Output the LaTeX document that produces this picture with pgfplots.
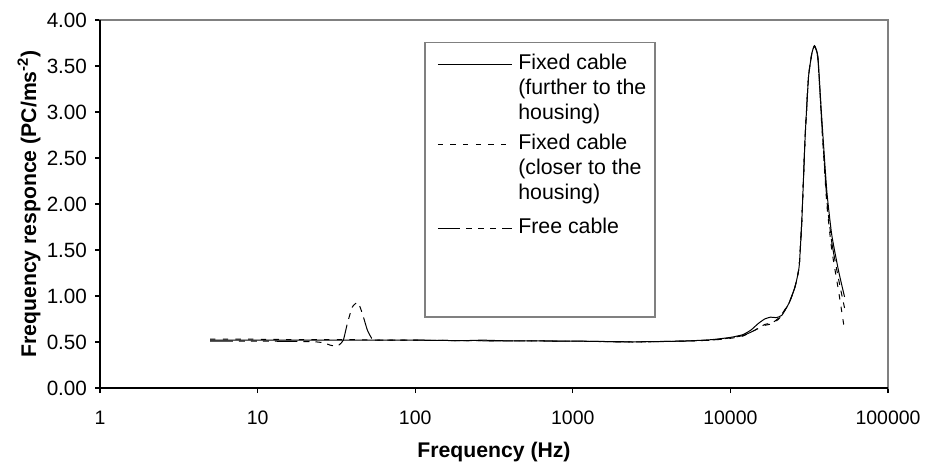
\documentclass[border=0pt]{standalone}
\usepackage{fontspec}
\setmainfont{Liberation Sans}
\usepackage{pgfplots}
\pgfplotsset{compat=1.18}

% frequency (Hz), response
\pgfplotstableread{
f      r
5      0.52
10     0.52
20     0.52
40     0.52
60     0.52
100    0.52
200    0.515
270    0.52
400    0.512
1000   0.51
2400   0.502
5000   0.51
7500   0.525
10000  0.55
12000  0.58
13500  0.63
15000  0.70
16500  0.75
18000  0.77
19500  0.765
21200  0.79
23500  0.92
25700  1.10
27300  1.32
28400  1.83
29800  2.73
31300  3.38
32900  3.64
34200  3.72
35900  3.60
38000  2.93
40900  2.14
44000  1.66
48600  1.27
53000  0.99
}\fixedfar

\pgfplotstableread{
f      r
5      0.53
10     0.53
20     0.525
40     0.525
60     0.52
100    0.52
200    0.515
400    0.512
1000   0.51
2400   0.50
5000   0.51
7500   0.52
10000  0.54
12000  0.565
14000  0.62
16500  0.68
18500  0.70
20500  0.76
23500  0.92
25700  1.10
27300  1.32
28400  1.83
29800  2.73
31300  3.38
32900  3.64
34200  3.72
35900  3.58
38000  2.85
40900  2.00
44000  1.50
48600  1.05
53000  0.63
}\fixedclose

\pgfplotstableread{
f      r
5      0.51
10     0.51
20     0.505
24     0.50
26.4   0.49
29     0.465
31.3   0.455
33     0.47
35     0.52
37.1   0.70
39.9   0.88
43.3   0.93
46.2   0.81
49.7   0.63
53     0.54
56     0.52
60     0.52
100    0.52
200    0.515
400    0.512
1000   0.51
2400   0.50
5000   0.51
7500   0.52
10000  0.545
12000  0.57
14000  0.62
16500  0.69
18500  0.71
20500  0.77
23500  0.92
25700  1.10
27300  1.32
28400  1.83
29800  2.73
31300  3.38
32900  3.64
34200  3.71
35900  3.59
38000  2.88
40900  2.05
44000  1.58
48600  1.18
53000  0.87
}\freecable

\begin{document}
\begin{tikzpicture}
\begin{axis}[
    width=591pt, height=276pt, scale only axis,
    xmode=log, xmin=1, xmax=100000,
    ymin=0, ymax=4,
    xtick={1,10,100,1000,10000,100000},
    xticklabels={1,10,100,1000,10000,100000},
    xminorticks=false,
    ytick={0,0.5,1,1.5,2,2.5,3,3.5,4},
    xticklabel style={font=\fontsize{14.6}{17}\selectfont, yshift=-10pt},
    yticklabel style={font=\fontsize{15.5}{18}\selectfont, xshift=-2.5pt, /pgf/number format/.cd, fixed, fixed zerofill, precision=2, assume math mode=true},
    tick pos=left,
    tick align=outside,
    major tick length=3.75pt,
    tick style={black, line width=0.8pt},
    axis line style={draw=gray, line width=0.8pt},
    clip=false,
    label style={font=\bfseries\fontsize{15.9}{18}\selectfont},
    xlabel={Frequency (Hz)},
    ylabel={Frequency responce (PC/ms\textsuperscript{-2})},
    xlabel style={at={(axis description cs:0.5,-0.174)}, anchor=center},
    ylabel style={at={(axis description cs:-0.0900,0.5)}, anchor=center},
    legend style={draw=none, fill=none, at={(rel axis cs:0.4277,0.9166)}, anchor=north west,
        inner sep=0pt, font=\fontsize{16}{18.75}\selectfont, row sep=0pt, column sep=0pt,
        nodes={anchor=base west, inner xsep=4pt, inner ysep=0pt, text height=13.75pt, text depth=5pt}},
    legend cell align=left,
    legend image code/.code={\draw[#1, line width=0.75pt] (0pt,3.75pt) -- (56pt,3.75pt);},
]
\addplot[black, line width=0.75pt, smooth, tension=0.3] table {\fixedfar};
\addlegendentry{Fixed cable}
\addlegendimage{empty legend}
\addlegendentry{(further to the}
\addlegendimage{empty legend}
\addlegendentry{housing)}
\addplot[black, line width=0.75pt, smooth, tension=0.3, dash pattern=on 4pt off 5.5pt] table {\fixedclose};
\addlegendentry[text height=17.5pt]{Fixed cable}
\addlegendimage{empty legend}
\addlegendentry{(closer to the}
\addlegendimage{empty legend}
\addlegendentry{housing)}
\addplot[black, line width=0.75pt, smooth, tension=0.3, dash pattern=on 17pt off 4.5pt on 4.5pt off 4.5pt on 4.5pt off 4.5pt on 4.5pt off 4.5pt] table {\freecable};
\addlegendentry[text height=20.5pt]{Free cable}

\draw[black, line width=1pt] (rel axis cs:0,1) -- (rel axis cs:0,0) -- (rel axis cs:1,0);
\draw[gray, line width=0.8pt] (rel axis cs:0.4124,0.940) rectangle (rel axis cs:0.7043,0.193);
\end{axis}
\pgfresetboundingbox
\path[use as bounding box] (-75pt,-65.25pt) rectangle (620.25pt,291pt);
\end{tikzpicture}
\end{document}
